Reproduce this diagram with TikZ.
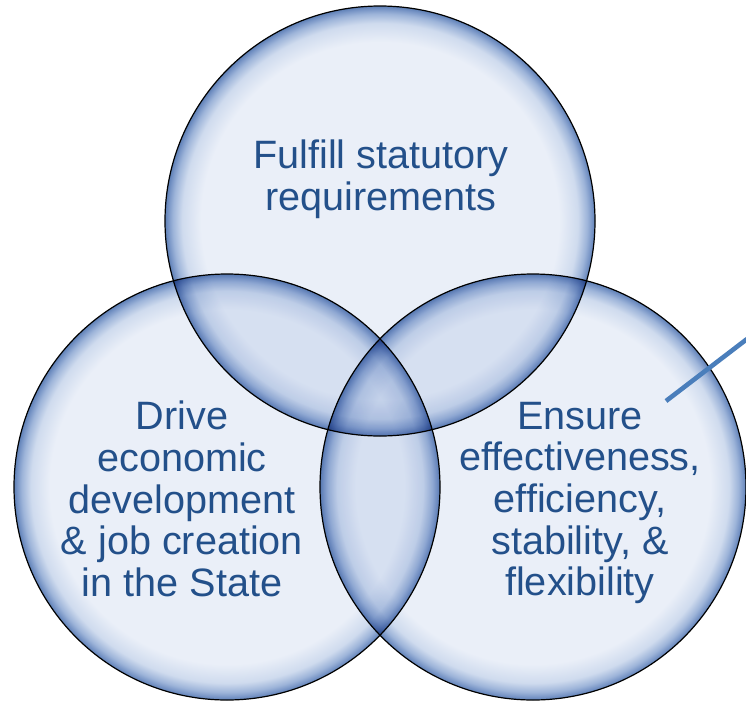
\documentclass[tikz,border=0pt]{standalone}
\usepackage{fontspec}
\setmainfont{Liberation Sans}
\definecolor{bIn}{HTML}{EAEFF8}
\definecolor{bMid}{HTML}{CFDBEE}
\definecolor{bDeep}{HTML}{9DB4D9}
\definecolor{bRim}{HTML}{7895C6}
\definecolor{bEdge}{HTML}{5E80B6}
\definecolor{txtblue}{HTML}{23508A}
\definecolor{linkblue}{HTML}{4A7EBB}
\pgfdeclareradialshading{bubble}{\pgfpoint{0bp}{0bp}}{%
color(0bp)=(bIn); color(20.8bp)=(bIn); color(23.0bp)=(bMid); color(24.1bp)=(bDeep);
color(24.65bp)=(bRim); color(25bp)=(bEdge); color(50bp)=(bEdge)}
\tikzset{
  bubblenode/.style={circle, inner sep=0pt, minimum size=#1, shading=bubble, blend mode=multiply},
  rim/.style={draw=black, line width=1.2pt},
  label/.style={text=txtblue, align=center, inner sep=0pt, font=\fontsize{39.6}{41.7}\selectfont},
  link/.style={draw=linkblue, line width=4.6pt}
}
\begin{document}
\begin{tikzpicture}[x=1pt,y=-1pt]
\useasboundingbox (0,0) rectangle (746,702);
\node[bubblenode=430pt] (T) at (380,221) {};
\node[bubblenode=426pt] (L) at (227,487) {};
\node[bubblenode=426pt] (R) at (533,487) {};
\draw[rim] (T.center) circle[radius=215pt];
\draw[rim] (L.center) circle[radius=213pt];
\draw[rim] (R.center) circle[radius=213pt];
\node[label] (tT) at (381,179) {Fulfill statutory\\requirements};
\node[label] (tL) at (182,499) {Drive\\economic\\development\\\& job creation\\in the State};
\node[label] (tR) at (580,503) {Ensure\\effectiveness,\\efficiency,\\stability, \&\\flexibility};
\coordinate (ls) at (666,401);
\coordinate (le) at (747,339);
\draw[link] (ls) -- (le);
\end{tikzpicture}
\end{document}
